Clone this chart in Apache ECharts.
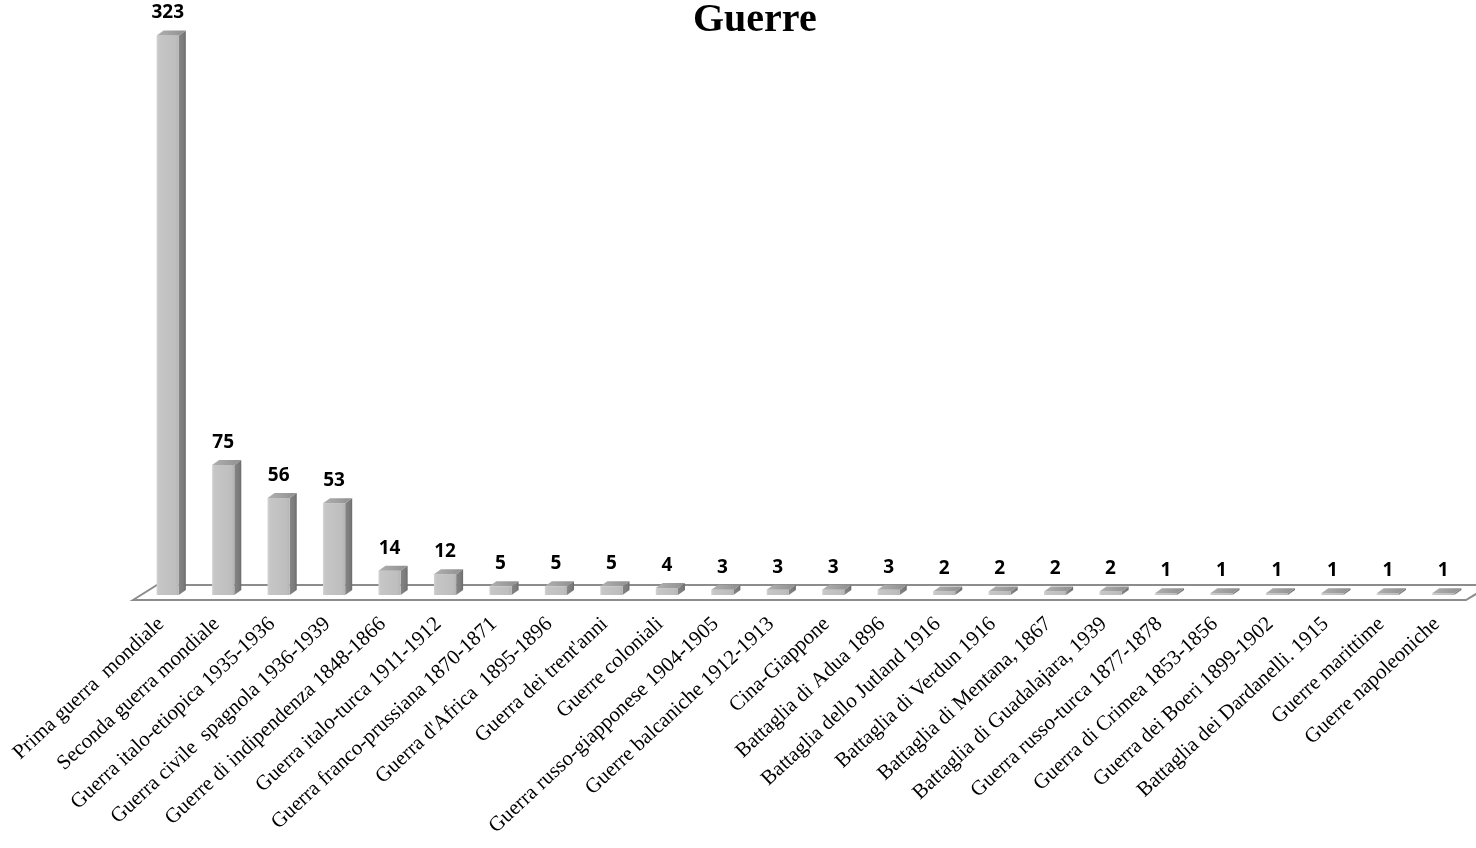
<!DOCTYPE html>
<html>
<head>
<meta charset="utf-8">
<title>Guerre</title>
<script src="https://cdn.jsdelivr.net/npm/echarts@6/dist/echarts.min.js"></script>
<style>
  html, body { margin: 0; padding: 0; background: #ffffff; }
  #chart { width: 1476px; height: 848px; }
</style>
</head>
<body>
<div id="chart"></div>
<script>
// Categories (wars / battles) and their counts
const categories = [
  'Prima guerra  mondiale',
  'Seconda guerra mondiale',
  'Guerra italo-etiopica 1935-1936',
  'Guerra civile  spagnola 1936-1939',
  'Guerre di indipendenza 1848-1866',
  'Guerra italo-turca 1911-1912',
  'Guerra franco-prussiana 1870-1871',
  "Guerra d'Africa  1895-1896",
  "Guerra dei trent'anni",
  'Guerre coloniali',
  'Guerra russo-giapponese 1904-1905',
  'Guerre balcaniche 1912-1913',
  'Cina-Giappone',
  'Battaglia di Adua 1896',
  'Battaglia dello Jutland 1916',
  'Battaglia di Verdun 1916',
  'Battaglia di Mentana, 1867',
  'Battaglia di Guadalajara, 1939',
  'Guerra russo-turca 1877-1878',
  'Guerra di Crimea 1853-1856',
  'Guerra dei Boeri 1899-1902',
  'Battaglia dei Dardanelli. 1915',
  'Guerre marittime',
  'Guerre napoleoniche'
];
const values = [323, 75, 56, 53, 14, 12, 5, 5, 5, 4, 3, 3, 3, 3, 2, 2, 2, 2, 1, 1, 1, 1, 1, 1];
const titleText = 'Guerre';

const DEPTH_X = 7;
const DEPTH_Y = 5;

// Floor of the 3D plot area, drawn as a parallelogram under the columns
function renderFloor(params, api) {
  const cs = params.coordSys;
  const base = api.coord([0, 0])[1];
  const xl = cs.x, xr = cs.x + cs.width;
  const front = base + 5, back = base - 10;
  return {
    type: 'polygon',
    shape: { points: [[xl - 7, front], [xl + 17, back], [xr + 20, back], [xr - 5, front]] },
    style: { fill: '#ffffff', stroke: '#8c8c8c', lineWidth: 2 },
    z2: 0
  };
}

// 3D-looking column: front face, right side face, top face and value label
function renderBar(params, api) {
  const idx = api.value(0);
  const val = api.value(1);
  const top = api.coord([idx, val]);
  const base = api.coord([idx, 0]);
  const w = api.size([1, 0])[0] * 0.4;
  const x0 = top[0] - w / 2, x1 = top[0] + w / 2;
  const yt = top[1], yb = base[1];
  return {
    type: 'group',
    children: [
      {
        type: 'polygon',
        shape: { points: [[x1, yb], [x1, yt], [x1 + DEPTH_X, yt - DEPTH_Y], [x1 + DEPTH_X, yb - DEPTH_Y]] },
        style: {
          fill: new echarts.graphic.LinearGradient(0, 0, 1, 0, [
            { offset: 0, color: '#858585' },
            { offset: 0.7, color: '#7a7a7a' },
            { offset: 1, color: '#6a6a6a' }
          ])
        }
      },
      {
        type: 'rect',
        shape: { x: x0, y: yt, width: w, height: yb - yt },
        style: {
          fill: new echarts.graphic.LinearGradient(0, 0, 1, 0, [
            { offset: 0, color: '#d4d4d4' },
            { offset: 0.1, color: '#c6c6c6' },
            { offset: 0.85, color: '#bebebe' },
            { offset: 1, color: '#b4b4b4' }
          ])
        }
      },
      {
        type: 'polygon',
        shape: { points: [[x0, yt], [x1, yt], [x1 + DEPTH_X, yt - DEPTH_Y], [x0 + DEPTH_X, yt - DEPTH_Y]] },
        style: {
          fill: new echarts.graphic.LinearGradient(0, 0, 1, 0, [
            { offset: 0, color: '#b0b0b0' },
            { offset: 1, color: '#8f8f8f' }
          ])
        }
      },
      {
        type: 'text',
        style: {
          x: top[0],
          y: yt - DEPTH_Y - 8,
          text: String(val),
          fill: '#000000',
          font: 'bold 19px "Open Sans", sans-serif',
          textAlign: 'center',
          textVerticalAlign: 'bottom'
        }
      }
    ]
  };
}

const chart = echarts.init(document.getElementById('chart'), null, { renderer: 'canvas' });

chart.setOption({
  backgroundColor: '#ffffff',
  animation: false,
  title: {
    text: titleText,
    left: 688,
    top: -4,
    textStyle: {
      fontFamily: '"Liberation Serif", "Times New Roman", serif',
      fontWeight: 'bold',
      fontSize: 40,
      color: '#000000'
    }
  },
  grid: { left: 140, right: 5, top: 6, bottom: 253, containLabel: false },
  xAxis: {
    type: 'category',
    data: categories,
    axisLine: { show: false },
    axisTick: { show: false },
    splitLine: { show: false },
    axisLabel: {
      interval: 0,
      rotate: 43,
      margin: 20,
      padding: [0, 9, 0, 0],
      fontFamily: '"Liberation Serif", "Times New Roman", serif',
      fontSize: 21,
      color: '#000000'
    }
  },
  yAxis: {
    type: 'value',
    min: 0,
    max: 340,
    show: false,
    splitLine: { show: false }
  },
  series: [
    {
      type: 'custom',
      renderItem: renderFloor,
      data: [[0, 0]],
      silent: true,
      z: 1
    },
    {
      type: 'custom',
      renderItem: renderBar,
      data: values.map((v, i) => [i, v]),
      encode: { x: 0, y: 1 },
      z: 2
    }
  ]
});
</script>
</body>
</html>
